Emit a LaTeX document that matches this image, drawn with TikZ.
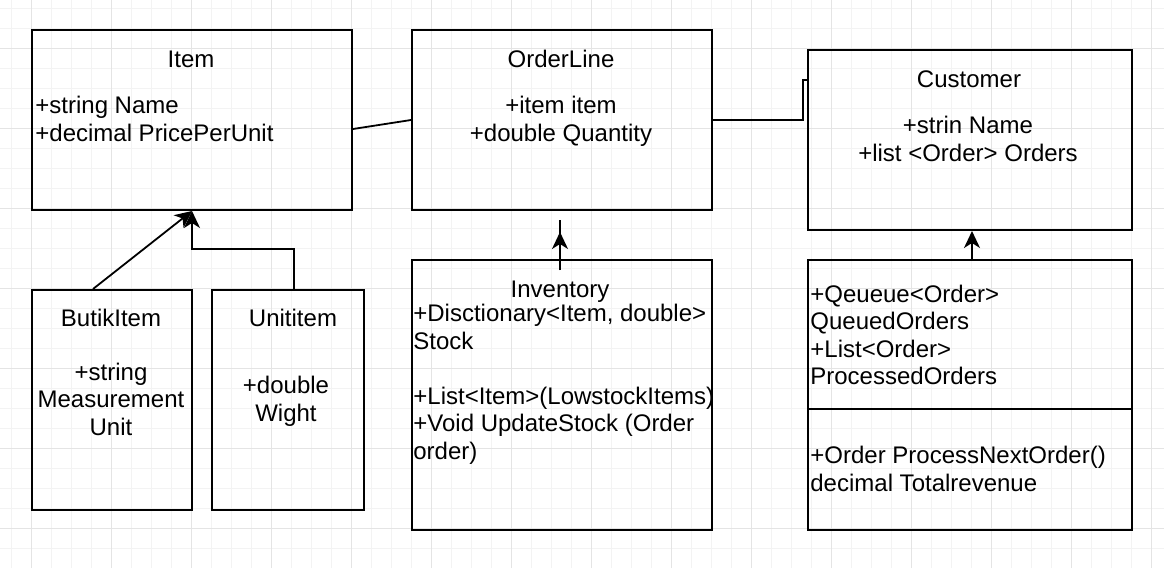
\documentclass[tikz,border=0pt]{standalone}
\usepackage{fontspec}
\setmainfont{Liberation Sans}
\usetikzlibrary{arrows.meta}
\definecolor{gridminor}{HTML}{F3F3F3}
\definecolor{gridmajor}{HTML}{E4E4E4}

\begin{document}
\begin{tikzpicture}[x=0.5pt, y=-0.5pt,
	box/.style={draw, line width=1pt, inner sep=0pt, anchor=north west},
	txt/.style={inner sep=0pt, font=\fontsize{12}{13.75}\selectfont},
	inh/.style={line width=0.9pt, -{Stealth[length=8.5pt, width=8pt, inset=2.5pt]}}]
	% Canvas
	\useasboundingbox (0,0) rectangle (1164,568);
	\fill[white] (0,0) rectangle (1164,568);
	% Fine grid
	\foreach \gx in {0,...,57}
		\draw[line width=0.5pt, gridminor] ({11.67+20*\gx},0) -- ({11.67+20*\gx},568);
	\foreach \gy in {0,...,27}
		\draw[line width=0.5pt, gridminor] (0,{8.33+20*\gy}) -- (1164,{8.33+20*\gy});
	% Main grid
	\foreach \gx in {0,...,14}
		\draw[line width=0.6pt, gridmajor] ({31.67+80*\gx},0) -- ({31.67+80*\gx},568);
	\foreach \gy in {0,...,6}
		\draw[line width=0.6pt, gridmajor] (0,{48.33+80*\gy}) -- (1164,{48.33+80*\gy});
	% Classes
	\node[box, minimum width=160pt, minimum height=90pt] (item) at (31,29) {};
	\node[box, minimum width=150pt, minimum height=90pt] (orderline) at (411,29) {};
	\node[box, minimum width=162pt, minimum height=90pt] (customer) at (807,49) {};
	\node[box, minimum width=80pt, minimum height=110pt] (butik) at (31,289) {};
	\node[box, minimum width=76pt, minimum height=110pt] (unit) at (211,289) {};
	\node[box, minimum width=150pt, minimum height=135pt] (inventory) at (411,259) {};
	\node[box, minimum width=162pt, minimum height=135pt] (queue) at (807,259) {};
	\draw[line width=1pt] ([yshift=-75pt]queue.north west) -- ([yshift=-75pt]queue.north east);
	% Texts (multi-line nodes sit on the baseline of their last line)
	\node[txt, anchor=base] (itemtitle) at (191,67.5) {Item};
	\node[txt, anchor=base west, align=left] (itembody) at (35,141) {+string Name\\+decimal PricePerUnit};
	\node[txt, anchor=base] (ordertitle) at (561,67.5) {OrderLine};
	\node[txt, anchor=base, align=center] (orderbody) at (561,141) {+item item\\+double Quantity};
	\node[txt, anchor=base] (custtitle) at (969,87.5) {Customer};
	\node[txt, anchor=base, align=center] (custbody) at (968,161) {+strin Name\\+list <Order> Orders};
	\node[txt, anchor=base] (butiktitle) at (111,326.5) {ButikItem};
	\node[txt, anchor=base, align=center] (butikbody) at (111,435) {+string\\Measurement\\Unit};
	\node[txt, anchor=base] (unittitle) at (293,326.5) {Unititem};
	\node[txt, anchor=base, align=center] (unitbody) at (286,421) {+double\\Wight};
	\node[txt, anchor=base] (invtitle) at (560,297.5) {Inventory};
	\node[txt, anchor=base west, align=left] (invbody) at (413,459)
		{+Disctionary<Item, double>\\Stock\\[13.75pt]+List<Item>(LowstockItems)\\+Void UpdateStock (Order\\order)};
	\node[txt, anchor=base west, align=left] (queuebody) at (810,384.5)
		{+Qeueue<Order>\\QueuedOrders\\+List<Order>\\ProcessedOrders};
	\node[txt, anchor=base west, align=left] (queuemeth) at (810,491)
		{+Order ProcessNextOrder()\\decimal Totalrevenue};
	% Connectors
	\draw[line width=0.9pt] ([yshift=-4.5pt]item.east) -- (orderline.west);
	\draw[line width=0.9pt] (orderline.east) -- ++(90,0) |- ([yshift=30pt]customer.west);
	\draw[inh] ([xshift=-9.5pt]butik.north) -- (item.south);
	\draw[inh] ([xshift=3pt]unit.north) -- ++(0,-40) -| (item.south);
	\draw[line width=0.9pt] ([xshift=-1pt,yshift=-5.5pt]inventory.north) -- ([xshift=-1pt,yshift=-4.5pt]orderline.south);
	\draw[inh] ([xshift=-1pt,yshift=-5.5pt]inventory.north) -- ([xshift=-1pt,yshift=-10.5pt]orderline.south);
	\draw[inh] ([xshift=1pt]queue.north) -- ([xshift=1pt]customer.south);
\end{tikzpicture}
\end{document}
